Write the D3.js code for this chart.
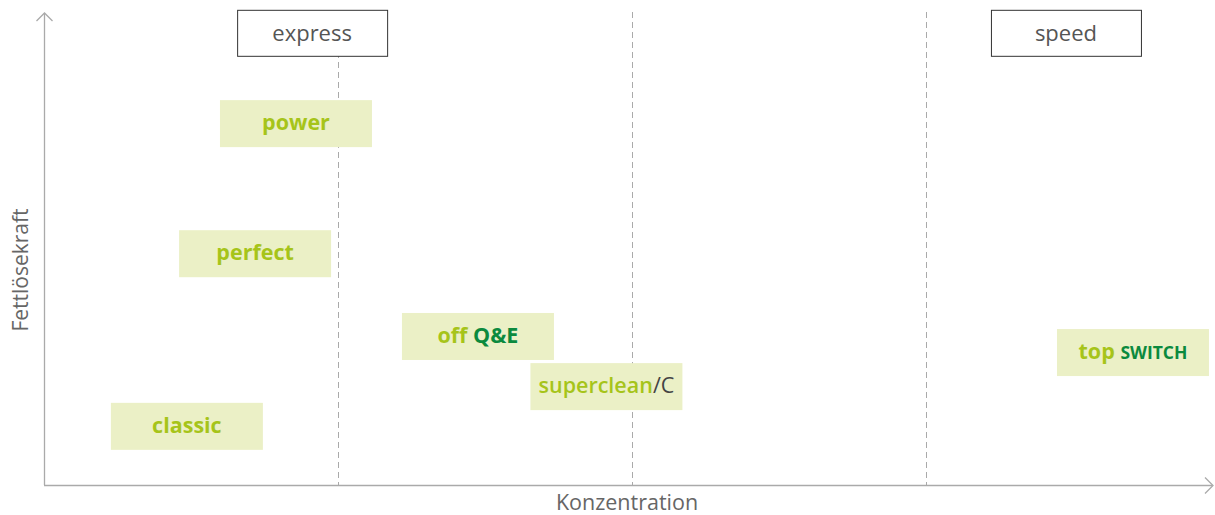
<!DOCTYPE html>
<html>
<head>
<meta charset="utf-8">
<script src="https://cdn.jsdelivr.net/npm/d3@7"></script>
<style>
  body { margin: 0; background: #fff; }
  text { font-family: "Open Sans", "DejaVu Sans", sans-serif; }
</style>
</head>
<body>
<div id="chart"></div>
<script>
// product boxes: position in (concentration, fat-dissolving power) units
const products = [
    { name: "power", x: 0.857, y: 76.4, parts: [["power", "light"]] },
    { name: "perfect", x: 0.718, y: 48.9, parts: [["perfect", "light"]] },
    { name: "off Q&E", x: 1.476, y: 31.4, parts: [["off ", "light"], ["Q&E", "dark"]] },
    { name: "superclean/C", x: 1.913, y: 20.8, parts: [["superclean", "lightReg"], ["/C", "grey"]] },
    { name: "classic", x: 0.486, y: 12.4, parts: [["classic", "light"]] },
    { name: "top SWITCH", x: 3.704, y: 28.0, parts: [["top ", "light"], ["SWITCH", "darkSmall"]] }
];
const headers = [
    { name: "express", x: 0.912, y: 95.6 },
    { name: "speed", x: 3.476, y: 95.6 }
];
const dividers = [1, 2, 3];
const xLabel = "Konzentration";
const yLabel = "Fettlösekraft";

const width = 1215, height = 515;
const boxW = 152, boxH = 47;

const svg = d3.select("#chart").append("svg")
    .attr("width", width)
    .attr("height", height);

let x = d3.scaleLinear().domain([0, 4]).range([44, 1220]);
let y = d3.scaleLinear().domain([0, 100]).range([485, 12]);

// dashed dividers
svg.selectAll(".divider")
    .data(dividers)
    .enter()
    .append("line")
    .attr("x1", d => x(d) + 0.5)
    .attr("x2", d => x(d) + 0.5)
    .attr("y1", y(100))
    .attr("y2", y(0))
    .attr("stroke", "#aaa")
    .attr("stroke-width", 1)
    .attr("stroke-dasharray", "6,4");

// axes with arrow heads
const axisColor = "#aaa";
svg.append("line")
    .attr("x1", x(0)).attr("x2", 1212)
    .attr("y1", y(0) + 0.5).attr("y2", y(0) + 0.5)
    .attr("stroke", axisColor).attr("stroke-width", 1.3);
svg.append("path")
    .attr("d", `M1205,${y(0) - 7.5} L1213,${y(0) + 0.5} L1205,${y(0) + 8.5}`)
    .attr("fill", "none").attr("stroke", axisColor).attr("stroke-width", 1.3);
svg.append("line")
    .attr("x1", x(0) + 0.5).attr("x2", x(0) + 0.5)
    .attr("y1", y(0)).attr("y2", 13)
    .attr("stroke", axisColor).attr("stroke-width", 1.3);
svg.append("path")
    .attr("d", `M${x(0) - 7.5},21 L${x(0) + 0.5},13 L${x(0) + 8.5},21`)
    .attr("fill", "none").attr("stroke", axisColor).attr("stroke-width", 1.3);

// axis titles
svg.append("text")
    .attr("x", 627)
    .attr("y", 510)
    .attr("text-anchor", "middle")
    .attr("font-size", "21.5px")
    .attr("fill", "#666")
    .text(xLabel);
svg.append("text")
    .attr("transform", `translate(28,270) rotate(-90)`)
    .attr("text-anchor", "middle")
    .attr("font-size", "21px")
    .attr("fill", "#666")
    .text(yLabel);

// header boxes
let hg = svg.selectAll(".header")
    .data(headers)
    .enter()
    .append("g")
    .attr("transform", d => `translate(${x(d.x)},${y(d.y)})`);
hg.append("rect")
    .attr("x", -75 + 0.5).attr("y", -23 + 0.5)
    .attr("width", 150).attr("height", 46)
    .attr("fill", "#fff").attr("stroke", "#333").attr("stroke-width", 1);
hg.append("text")
    .attr("text-anchor", "middle")
    .attr("dy", "0.38em")
    .attr("font-size", "22px")
    .attr("fill", "#555")
    .text(d => d.name);

// product boxes
const styles = {
    light: { fill: "#a6c41a", weight: 700, size: 21.5 },
    lightReg: { fill: "#a6c41a", weight: 600, size: 21.5 },
    dark: { fill: "#0b8a3e", weight: 700, size: 21.5 },
    darkSmall: { fill: "#0b8a3e", weight: 700, size: 17.5 },
    grey: { fill: "#444", weight: 400, size: 21.5 }
};
let pg = svg.selectAll(".product")
    .data(products)
    .enter()
    .append("g")
    .attr("transform", d => `translate(${x(d.x)},${y(d.y)})`);
pg.append("rect")
    .attr("x", -boxW / 2).attr("y", -boxH / 2)
    .attr("width", boxW).attr("height", boxH)
    .attr("fill", "#ebf0c6");
pg.append("text")
    .attr("text-anchor", "middle")
    .attr("dy", "0.4em")
    .selectAll("tspan")
    .data(d => d.parts)
    .enter()
    .append("tspan")
    .attr("fill", p => styles[p[1]].fill)
    .attr("font-weight", p => styles[p[1]].weight)
    .attr("font-size", p => styles[p[1]].size + "px")
    .attr("xml:space", "preserve")
    .text(p => p[0]);
</script>
</body>
</html>
